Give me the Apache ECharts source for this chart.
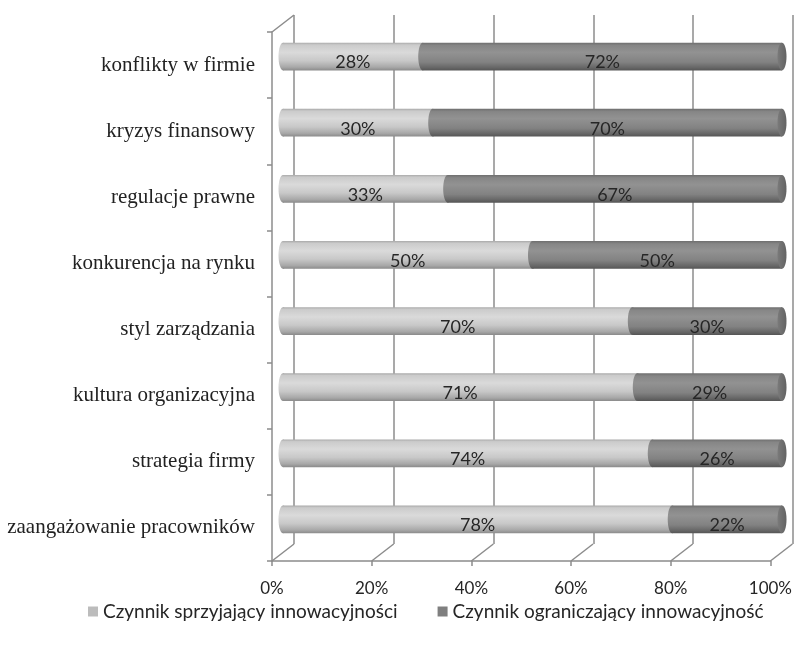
<!DOCTYPE html>
<html>
<head>
<meta charset="utf-8">
<script src="https://cdn.jsdelivr.net/npm/echarts@6/dist/echarts.min.js"></script>
<style>
  html, body { margin: 0; padding: 0; background: #fff; }
  #chart { width: 795px; height: 647px; }
</style>
</head>
<body>
<div id="chart"></div>
<script>
// Categories, top to bottom
const categories = [
  'konflikty w firmie',
  'kryzys finansowy',
  'regulacje prawne',
  'konkurencja na rynku',
  'styl zarządzania',
  'kultura organizacyjna',
  'strategia firmy',
  'zaangażowanie pracowników'
];
// Share of answers (%)
const sprzyjajacy = [28, 30, 33, 50, 70, 71, 74, 78];
const ograniczajacy = [72, 70, 67, 50, 30, 29, 26, 22];
const seriesNames = ['Czynnik sprzyjający innowacyjności', 'Czynnik ograniczający innowacyjność'];
const xTicks = [0, 20, 40, 60, 80, 100];

// Layout of the pseudo-3D box
const W = 795, H = 647;
const FRONT = { left: 272, top: 32, right: 771, bottom: 561 };
const DEPTH = { dx: 22, dy: -17 };
const GRID_COLOR = '#8c8c8c';
const SANS = 'Lato, "Open Sans", sans-serif';

function gridFrom(box, shiftX, shiftY) {
  return {
    left: box.left + shiftX,
    top: box.top + shiftY,
    right: W - (box.right + shiftX),
    bottom: H - (box.bottom + shiftY),
    containLabel: false
  };
}

const lightGrad = new echarts.graphic.LinearGradient(0, 0, 0, 1, [
  { offset: 0, color: '#a9a9a9' },
  { offset: 0.08, color: '#cbcbcb' },
  { offset: 0.35, color: '#dadada' },
  { offset: 0.65, color: '#c8c8c8' },
  { offset: 0.88, color: '#a8a8a8' },
  { offset: 1, color: '#8a8a8a' }
]);
const darkGrad = new echarts.graphic.LinearGradient(0, 0, 0, 1, [
  { offset: 0, color: '#6e6e6e' },
  { offset: 0.1, color: '#868686' },
  { offset: 0.35, color: '#929292' },
  { offset: 0.7, color: '#828282' },
  { offset: 0.9, color: '#666666' },
  { offset: 1, color: '#555555' }
]);
const capGrad = new echarts.graphic.LinearGradient(0, 0, 1, 0, [
  { offset: 0, color: '#7a7a7a' },
  { offset: 1, color: '#636363' }
]);

function cylinder(fill, isLast) {
  return function (params, api) {
    const cat = api.value(0);
    const p0 = api.coord([api.value(1), cat]);
    const p1 = api.coord([api.value(2), cat]);
    const band = api.size([0, 1])[1];
    const h = band * 0.42;
    const rx = 4.5;
    const children = [
      { type: 'rect', shape: { x: p0[0], y: p0[1] - h / 2, width: p1[0] - p0[0], height: h }, style: { fill: fill } },
      { type: 'ellipse', shape: { cx: p0[0], cy: p0[1], rx: rx, ry: h / 2 }, style: { fill: fill } }
    ];
    if (isLast) {
      children.push({ type: 'ellipse', shape: { cx: p1[0], cy: p1[1], rx: rx, ry: h / 2 }, style: { fill: capGrad } });
    }
    children.push({
      type: 'text',
      style: {
        text: api.value(3) + '%',
        x: (p0[0] + p1[0]) / 2,
        y: p0[1] + 6,
        align: 'center',
        verticalAlign: 'middle',
        font: '18px ' + SANS,
        fill: '#262626'
      }
    });
    return { type: 'group', children: children };
  };
}

const lightData = sprzyjajacy.map((v, i) => [i, 0, v, v]);
const darkData = ograniczajacy.map((v, i) => [i, sprzyjajacy[i], sprzyjajacy[i] + v, v]);

const chart = echarts.init(document.getElementById('chart'), null, { renderer: 'canvas' });

chart.setOption({
  backgroundColor: '#fff',
  animation: false,
  grid: [
    gridFrom(FRONT, DEPTH.dx, DEPTH.dy),          // back wall
    gridFrom(FRONT, 0, 0),                          // front plane with labels
    gridFrom(FRONT, DEPTH.dx / 2, DEPTH.dy / 2)     // plane of the cylinders
  ],
  xAxis: [
    {
      gridIndex: 0, type: 'value', min: 0, max: 100, interval: 20,
      axisLine: { show: false }, axisTick: { show: false }, axisLabel: { show: false },
      splitLine: { show: true, showMinLine: true, showMaxLine: true, lineStyle: { color: GRID_COLOR, width: 1.5 } }
    },
    {
      gridIndex: 1, type: 'value', min: 0, max: 100, interval: 20,
      axisLine: { show: true, lineStyle: { color: GRID_COLOR, width: 1.5 } },
      axisTick: { show: true, length: 5, lineStyle: { color: GRID_COLOR, width: 1.5 } },
      axisLabel: { margin: 19, formatter: '{value}%', color: '#262626', fontFamily: SANS, fontSize: 17 },
      splitLine: { show: false }
    },
    {
      gridIndex: 2, type: 'value', min: 0, max: 100, show: false
    }
  ],
  yAxis: [
    { gridIndex: 0, type: 'category', data: categories, inverse: true, show: false },
    {
      gridIndex: 1, type: 'category', data: categories, inverse: true,
      axisLine: { show: true, lineStyle: { color: GRID_COLOR, width: 1.5 } },
      axisTick: { show: true, length: 5, lineStyle: { color: GRID_COLOR, width: 1.5 } },
      axisLabel: { margin: 17, color: '#222', fontFamily: '"Liberation Serif", "Times New Roman", serif', fontSize: 21 },
      splitLine: { show: false }
    },
    { gridIndex: 2, type: 'category', data: categories, inverse: true, show: false }
  ],
  legend: {
    left: 83, top: 597,
    itemWidth: 10, itemHeight: 10, itemGap: 40,
    icon: 'rect',
    textStyle: { fontFamily: SANS, fontSize: 19, color: '#262626' },
    data: seriesNames
  },
  series: [
    {
      // floor edges running from the front axis back to the wall
      type: 'custom', xAxisIndex: 1, yAxisIndex: 1, silent: true,
      data: xTicks.map(v => [v]),
      encode: { x: 0 },
      renderItem: function (params, api) {
        const cs = params.coordSys;
        const x = api.coord([api.value(0), 0])[0];
        const y = cs.y + cs.height;
        return { type: 'line', shape: { x1: x, y1: y, x2: x + DEPTH.dx, y2: y + DEPTH.dy },
                 style: { stroke: GRID_COLOR, lineWidth: 1.5 } };
      }
    },
    {
      // top edge of the left side wall
      type: 'custom', xAxisIndex: 1, yAxisIndex: 1, silent: true,
      data: [[0]],
      encode: { x: 0 },
      renderItem: function (params, api) {
        const cs = params.coordSys;
        return { type: 'line', shape: { x1: cs.x, y1: cs.y, x2: cs.x + DEPTH.dx, y2: cs.y + DEPTH.dy },
                 style: { stroke: GRID_COLOR, lineWidth: 1.5 } };
      }
    },
    {
      name: seriesNames[0], type: 'custom', xAxisIndex: 2, yAxisIndex: 2,
      itemStyle: { color: '#bcbcbc' },
      data: lightData,
      encode: { x: [1, 2], y: 0 },
      renderItem: cylinder(lightGrad, false)
    },
    {
      name: seriesNames[1], type: 'custom', xAxisIndex: 2, yAxisIndex: 2,
      itemStyle: { color: '#7f7f7f' },
      data: darkData,
      encode: { x: [1, 2], y: 0 },
      renderItem: cylinder(darkGrad, true)
    }
  ]
});
</script>
</body>
</html>
